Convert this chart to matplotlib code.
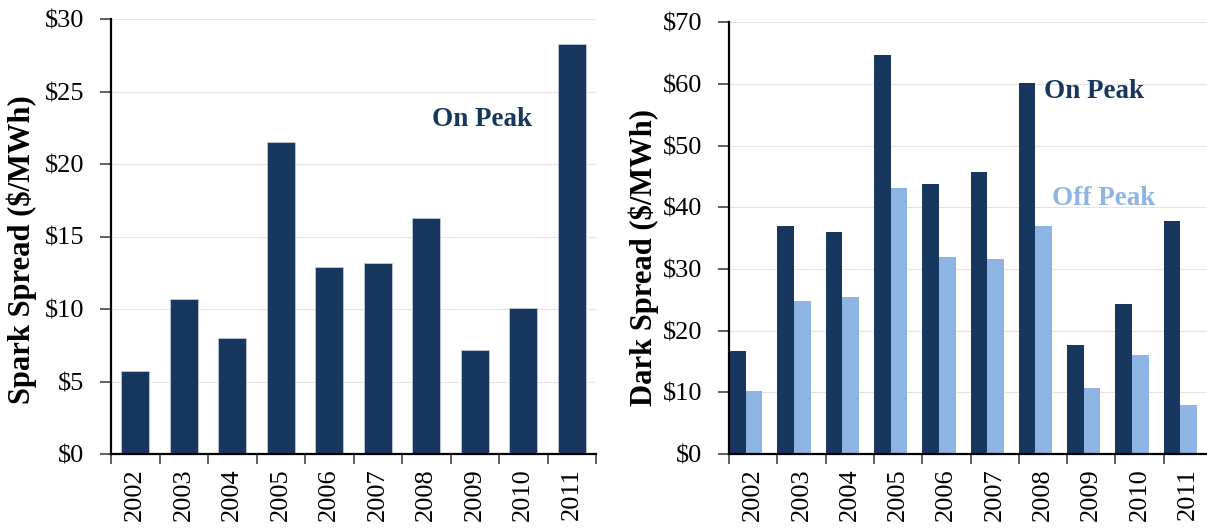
import matplotlib
matplotlib.use("Agg")
import matplotlib.pyplot as plt
import numpy as np

plt.rcParams['font.family'] = ['Liberation Serif', 'DejaVu Serif']

years = ['2002', '2003', '2004', '2005', '2006', '2007', '2008', '2009', '2010', '2011']
spark_on = [5.7, 10.7, 8.0, 21.5, 12.9, 13.2, 16.25, 7.2, 10.1, 28.25]
dark_on = [16.7, 37.0, 36.05, 64.7, 43.7, 45.75, 60.15, 17.6, 24.25, 37.85]
dark_off = [10.2, 24.8, 25.4, 43.2, 32.0, 31.7, 37.0, 10.7, 16.1, 8.0]

NAVY = '#17375E'
LIGHT = '#8EB4E3'
W, H = 1207, 529

fig = plt.figure(figsize=(W / 100, H / 100), dpi=100)


def px_axes(left, top, right, bottom):
    return fig.add_axes([left / W, 1 - bottom / H, (right - left) / W, (bottom - top) / H])


def style(ax, ymax, step, label, lab_x, lab_y):
    n = len(years)
    ax.set_xlim(0, n)
    ax.set_ylim(0, ymax)
    ax.set_yticks(np.arange(0, ymax + 1, step))
    ax.set_yticklabels(['$%d' % v for v in np.arange(0, ymax + 1, step)])
    ax.set_xticks(np.arange(0, n + 1))
    ax.set_xticklabels([])
    ax.set_xticks(np.arange(n) + 0.5, minor=True)
    ax.set_xticklabels(years, minor=True, rotation=90, fontsize=19)
    ax.tick_params(axis='x', which='minor', length=0, pad=10)
    ax.tick_params(axis='x', which='major', length=7, width=1.2, color='#444444')
    ax.tick_params(axis='y', length=8, width=1.2, color='#444444', labelsize=19, pad=11)
    for s in ['top', 'right']:
        ax.spines[s].set_visible(False)
    for s in ['left', 'bottom']:
        ax.spines[s].set_linewidth(1.6)
        ax.spines[s].set_zorder(5)
    ax.grid(axis='y', color='#e4e4e4', linewidth=0.8, zorder=0)
    ax.set_axisbelow(True)
    ax.set_ylabel(label, fontsize=22, fontweight='bold', va='center')
    ax.yaxis.set_label_coords(lab_x, lab_y)


# left panel: spark spread
ax1 = px_axes(111, 19, 596, 454)
x = np.arange(len(years))
ax1.bar(x + 0.5, spark_on, width=0.58, color=NAVY, edgecolor='#c9d2e0', linewidth=0.5, zorder=3)
style(ax1, 30, 5, 'Spark Spread ($/MWh)', (22 - 111) / 485, (454 - 250) / 435)
ax1.text(0.765, 0.768, 'On Peak', transform=ax1.transAxes, ha='center', va='center',
         fontsize=19.5, fontweight='bold', color=NAVY)

# right panel: dark spread
ax2 = px_axes(729, 22.3, 1212, 454)
bw = 0.345
ax2.bar(x + bw / 2, dark_on, width=bw, color=NAVY, zorder=3)
ax2.bar(x + 1.5 * bw, dark_off, width=bw, color=LIGHT, zorder=3)
style(ax2, 70, 10, 'Dark Spread ($/MWh)', (644 - 729) / 483, (454 - 257) / 431.7)
ax2.text(0.756, 0.839, 'On Peak', transform=ax2.transAxes, ha='center', va='center',
         fontsize=19.5, fontweight='bold', color=NAVY)
ax2.text(0.776, 0.593, 'Off Peak', transform=ax2.transAxes, ha='center', va='center',
         fontsize=19.5, fontweight='bold', color=LIGHT)

fig.savefig('out.png', dpi=100)
